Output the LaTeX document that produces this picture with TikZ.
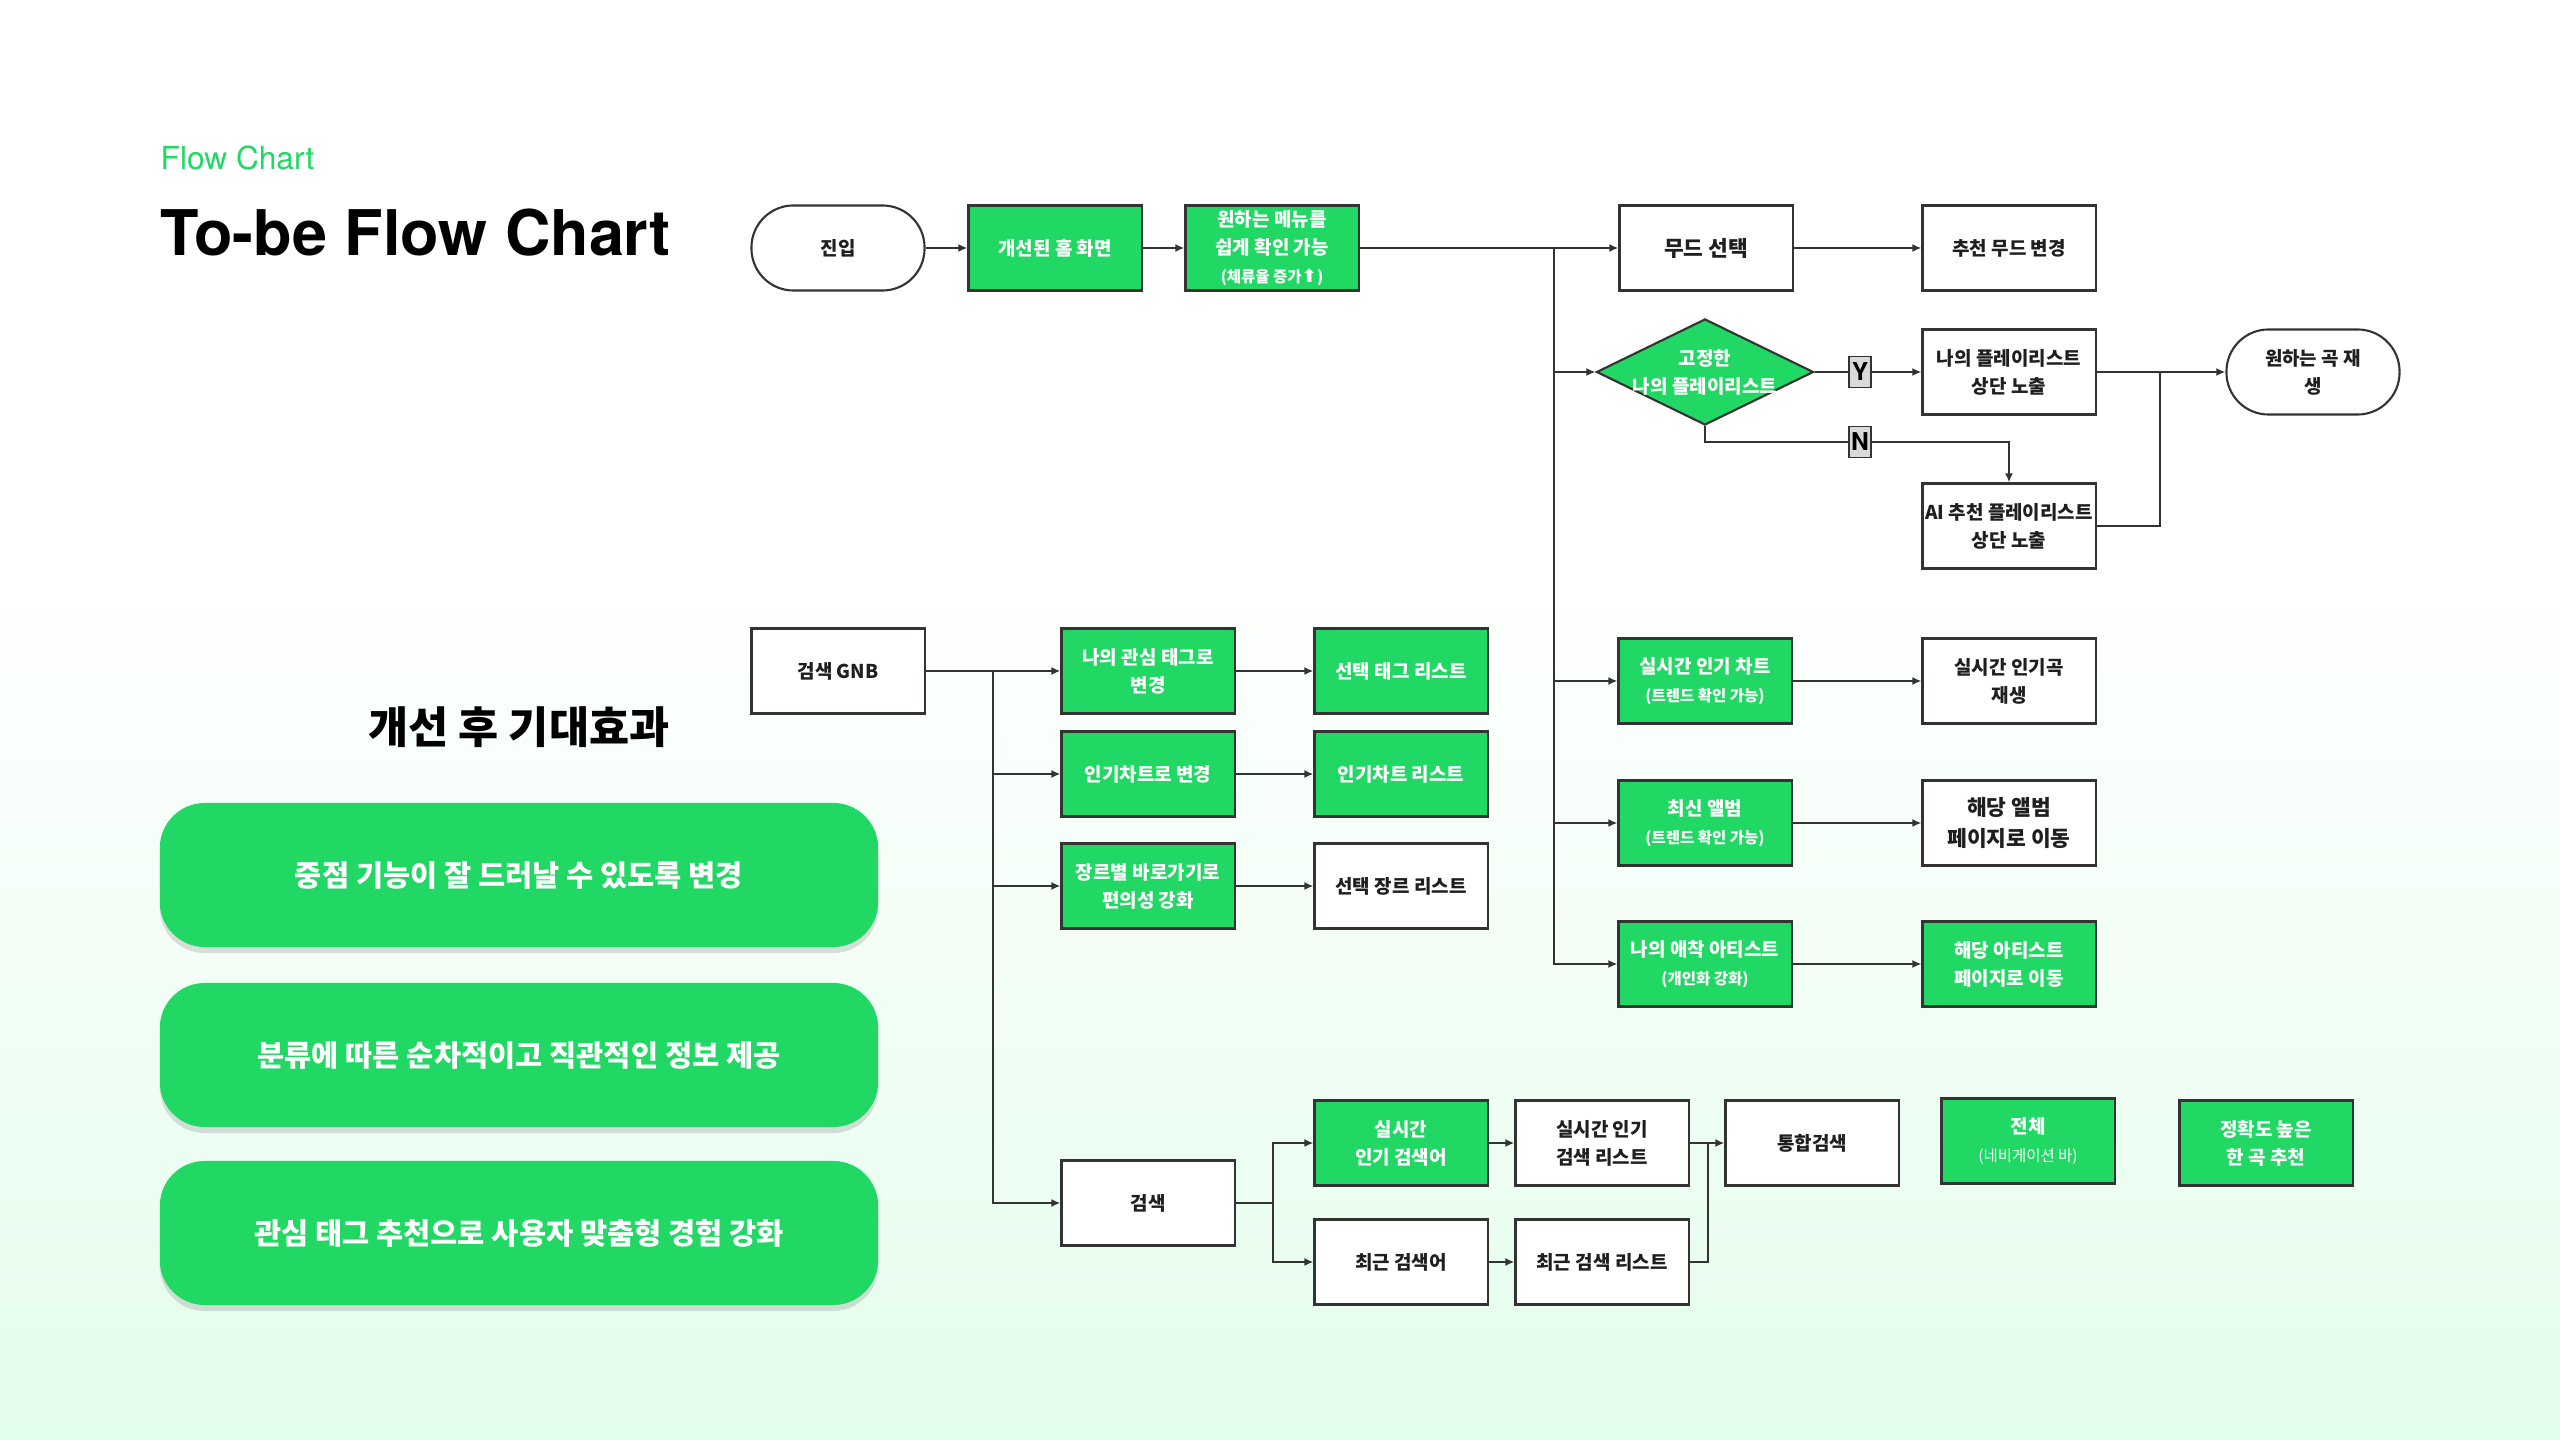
\documentclass[tikz,border=0pt]{standalone}
\usepackage{fontspec}
\setmainfont{Noto Sans CJK KR}
\newfontfamily\latinfont{TeX Gyre Heros}
\newfontfamily\symbolfont{DejaVu Sans}
\usetikzlibrary{arrows.meta,shapes.geometric,shadows}

\definecolor{brandgreen}{HTML}{20D863}
\definecolor{linegray}{HTML}{333333}
\definecolor{bgmint}{HTML}{E3FDEB}
\definecolor{taggray}{HTML}{D9D9D9}

\newcommand{\boxfont}{\fontsize{5.4}{8}\selectfont\bfseries}
\newcommand{\bigboxfont}{\fontsize{6.1}{8.6}\selectfont\bfseries}
\newcommand{\notefont}{\fontsize{4.4}{6}\selectfont}

\begin{document}
\begin{tikzpicture}[x=0.01cm,y=-0.01cm,
  box/.style={draw=linegray,line width=0.6pt,minimum width=1.73cm,minimum height=0.85cm,inner sep=0.5pt,align=center,font=\boxfont},
  greenbox/.style={box,fill=brandgreen,text=white},
  whitebox/.style={box,fill=white,text=black!88},
  terminal/.style={whitebox,rounded corners=0.42cm},
  flow/.style={draw=linegray,line width=0.6pt,-{Latex[length=0.9mm,width=0.8mm]}},
  link/.style={draw=linegray,line width=0.6pt},
  answer/.style={draw=linegray,fill=taggray,line width=0.5pt,inner sep=0.4pt,minimum width=0.22cm,minimum height=0.31cm,font=\latinfont\fontsize{7}{7}\selectfont\bfseries},
  effect/.style={fill=brandgreen,rounded corners=0.45cm,minimum width=7.18cm,minimum height=1.44cm,text=white,font=\fontsize{8.4}{9}\selectfont\bfseries,drop shadow={shadow xshift=0pt,shadow yshift=-0.06cm,opacity=0.25}}]

  \fill[white] (0,0) rectangle (2560,1440);
  \shade[top color=white,bottom color=bgmint] (0,560) rectangle (2560,1440);
  \useasboundingbox (0,0) rectangle (2560,1440);

  \node[anchor=west,inner sep=0,text=brandgreen,font=\latinfont\fontsize{9}{10}\selectfont] (subtitle) at (160,158) {Flow Chart};
  \node[anchor=west,inner sep=0,font=\latinfont\bfseries\fontsize{17.9}{20}\selectfont] (title) at (160,233) {To-be Flow Chart};

  \node[font=\fontsize{12.4}{14}\selectfont\bfseries] (effect title) at (519,727) {개선 후 기대효과};
  \node[effect] (effect 1) at (519,875) {중점 기능이 잘 드러날 수 있도록 변경};
  \node[effect] (effect 2) at (519,1055) {분류에 따른 순차적이고 직관적인 정보 제공};
  \node[effect] (effect 3) at (519,1233) {관심 태그 추천으로 사용자 맞춤형 경험 강화};

  \node[terminal] (entry) at (838,248) {진입};
  \node[greenbox] (home) at (1055,248) {개선된 홈 화면};
  \node[greenbox] (menu) at (1272,248) {원하는 메뉴를\\쉽게 확인 가능\\{\notefont\bfseries(체류율 증가{\symbolfont\fontsize{5.2}{6}\selectfont ⬆})}};
  \node[whitebox,font=\bigboxfont] (mood) at (1706,248) {무드 선택};
  \node[whitebox] (mood change) at (2009,248) {추천 무드 변경};

  \node[diamond,fill=brandgreen,draw=linegray,line width=0.6pt,minimum width=2.17cm,minimum height=1.06cm,inner sep=0pt,
    label={[font=\boxfont,text=white,align=center]center:고정한\\나의 플레이리스트}] (pinned) at (1705,372) {};
  \node[answer] (yes) at (1860,372) {Y};
  \node[answer] (no) at (1860,442) {N};
  \node[whitebox] (my play) at (2009,372) {나의 플레이리스트\\상단 노출};
  \node[whitebox] (ai play) at (2009,526) {AI 추천 플레이리스트\\상단 노출};
  \node[terminal] (play) at (2313,372) {원하는 곡 재\\생};

  \node[greenbox] (rt chart) at (1705,681) {실시간 인기 차트\\{\notefont\bfseries(트렌드 확인 가능)}};
  \node[whitebox] (rt song) at (2009,681) {실시간 인기곡\\재생};
  \node[greenbox] (new album) at (1705,823) {최신 앨범\\{\notefont\bfseries(트렌드 확인 가능)}};
  \node[whitebox,font=\bigboxfont] (album page) at (2009,823) {해당 앨범\\페이지로 이동};
  \node[greenbox] (my artist) at (1705,964) {나의 애착 아티스트\\{\notefont\bfseries(개인화 강화)}};
  \node[greenbox] (artist page) at (2009,964) {해당 아티스트\\페이지로 이동};

  \node[whitebox] (gnb) at (838,671) {검색 GNB};
  \node[greenbox] (tag change) at (1148,671) {나의 관심 태그로\\변경};
  \node[greenbox] (tag list) at (1401,671) {선택 태그 리스트};
  \node[greenbox] (chart change) at (1148,774) {인기차트로 변경};
  \node[greenbox] (chart list) at (1401,774) {인기차트 리스트};
  \node[greenbox] (genre shortcut) at (1148,886) {장르별 바로가기로\\편의성 강화};
  \node[whitebox] (genre list) at (1401,886) {선택 장르 리스트};

  \node[whitebox] (search) at (1148,1203) {검색};
  \node[greenbox] (pop keyword) at (1401,1143) {실시간\\인기 검색어};
  \node[whitebox] (pop list) at (1602,1143) {실시간 인기\\검색 리스트};
  \node[whitebox] (recent keyword) at (1401,1262) {최근 검색어};
  \node[whitebox] (recent list) at (1602,1262) {최근 검색 리스트};
  \node[whitebox] (unified) at (1812,1143) {통합검색};
  \node[greenbox] (nav all) at (2028,1141) {전체\\{\notefont\mdseries(네비게이션 바)}};
  \node[greenbox] (one pick) at (2266,1143) {정확도 높은\\한 곡 추천};

  \coordinate (mood trunk) at (1554,248);
  \coordinate (play join) at (2160,372);
  \coordinate (gnb trunk) at (993,671);
  \coordinate (search fork) at (1273,1203);
  \coordinate (merge) at (1708,1143);

  \draw[flow] (entry) -- (home);
  \draw[flow] (home) -- (menu);
  \draw[flow] (menu) -- (mood);
  \draw[flow] (mood) -- (mood change);
  \foreach \target in {pinned,rt chart,new album,my artist}
    \draw[flow] (mood trunk) |- (\target);

  \draw[link] (pinned) -- (yes);
  \draw[flow] (yes) -- (my play);
  \draw[link] (pinned.south) |- (no);
  \draw[flow] (no) -| (ai play);
  \draw[flow] (my play) -- (play);
  \draw[link] (ai play) -| (play join);

  \draw[flow] (rt chart) -- (rt song);
  \draw[flow] (new album) -- (album page);
  \draw[flow] (my artist) -- (artist page);

  \draw[link] (gnb) -- (gnb trunk);
  \foreach \target in {tag change,chart change,genre shortcut,search}
    \draw[flow] (gnb trunk) |- (\target);
  \draw[flow] (tag change) -- (tag list);
  \draw[flow] (chart change) -- (chart list);
  \draw[flow] (genre shortcut) -- (genre list);

  \draw[link] (search) -- (search fork);
  \draw[flow] (search fork) |- (pop keyword);
  \draw[flow] (search fork) |- (recent keyword);
  \draw[flow] (pop keyword) -- (pop list);
  \draw[flow] (recent keyword) -- (recent list);
  \draw[flow] (pop list) -- (unified);
  \draw[link] (recent list) -| (merge);
\end{tikzpicture}
\end{document}
